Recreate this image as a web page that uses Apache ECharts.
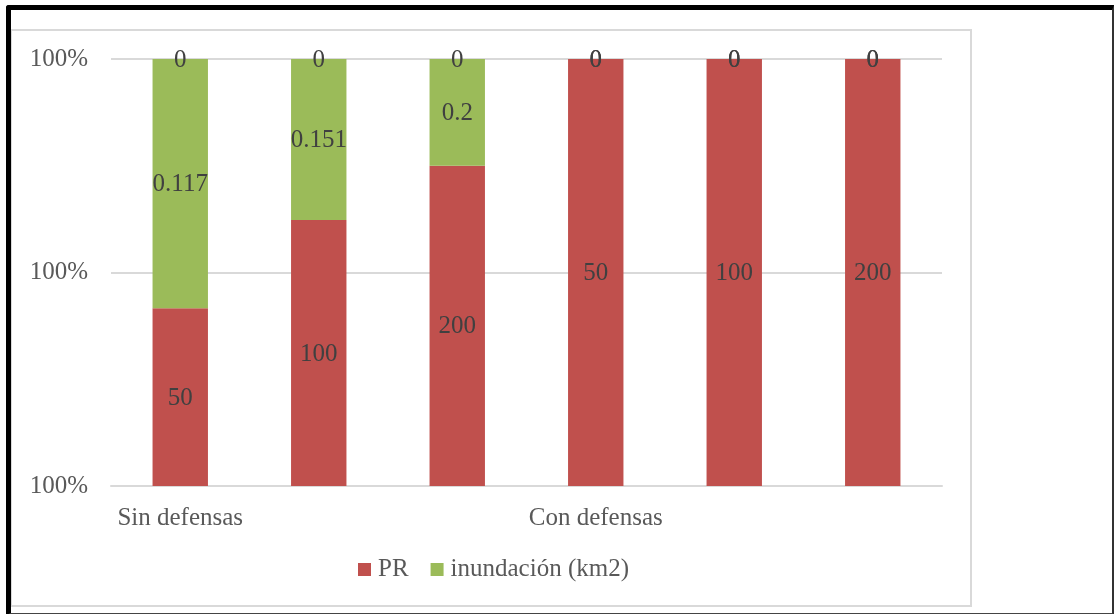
<!DOCTYPE html>
<html>
<head>
<meta charset="utf-8">
<script src="https://cdn.jsdelivr.net/npm/echarts@6/dist/echarts.min.js"></script>
<style>
  html, body { margin: 0; padding: 0; background: #fff; }
  #wrap { position: relative; width: 1114px; height: 614px; overflow: hidden; }
  #chart { position: absolute; left: 0; top: 0; width: 1114px; height: 614px; }
  .box { position: absolute; box-sizing: border-box; pointer-events: none; }
</style>
</head>
<body>
<div id="wrap">
  <div id="chart"></div>
  <!-- chart area border -->
  <div class="box" style="left:10px;top:29px;width:962px;height:578px;border:2px solid #D9D9D9;"></div>
  <!-- outer frame -->
  <div class="box" style="left:6px;top:5px;width:1108px;height:610px;border-top:5px solid #000;border-left:5px solid #000;border-right:2px solid #333;border-bottom:2px solid #444;border-top-left-radius:3px;"></div>
</div>
<script>
// Return periods (PR, years) and flooded area (km2) per scenario
const categories = ['Sin defensas', 'Sin defensas', 'Sin defensas', 'Con defensas', 'Con defensas', 'Con defensas'];
const prValues = [50, 100, 200, 50, 100, 200];
const floodValues = [0.117, 0.151, 0.2, 0, 0, 0];
const extraValues = [0, 0, 0, 0, 0, 0];
const yTicks = { min: 0.996, max: 1, interval: 0.002 };

// 100% stacked: each value as a share of its column total
const totals = categories.map((_, i) => prValues[i] + floodValues[i] + extraValues[i]);
const share = (arr) => arr.map((v, i) => ({ value: v / totals[i], raw: v }));

const labelStyle = {
  show: true,
  position: 'inside',
  fontFamily: 'Liberation Serif',
  fontSize: 25,
  color: '#404040',
  offset: [0, 1],
  formatter: (p) => String(p.data.raw)
};

const chart = echarts.init(document.getElementById('chart'), null, { renderer: 'canvas' });
chart.setOption({
  animation: false,
  textStyle: { fontFamily: 'Liberation Serif' },
  grid: { left: 111, right: 172, top: 59, bottom: 128, containLabel: false },
  legend: {
    data: ['PR', 'inundación (km2)'],
    left: 353,
    top: 552,
    icon: 'rect',
    itemWidth: 13,
    itemHeight: 13,
    itemGap: 22,
    textStyle: { fontFamily: 'Liberation Serif', fontSize: 25, color: '#595959', padding: [0, 0, 0, 2] }
  },
  xAxis: {
    type: 'category',
    data: categories,
    axisLine: { show: true, lineStyle: { color: '#D9D9D9', width: 2 } },
    axisTick: { show: false },
    axisLabel: {
      interval: 2,
      margin: 20,
      fontFamily: 'Liberation Serif',
      fontSize: 25,
      color: '#595959'
    }
  },
  yAxis: {
    type: 'value',
    min: yTicks.min,
    max: yTicks.max,
    interval: yTicks.interval,
    axisLine: { show: false },
    axisTick: { show: false },
    splitLine: { lineStyle: { color: '#D9D9D9', width: 2 } },
    axisLabel: {
      margin: 23,
      fontFamily: 'Liberation Serif',
      fontSize: 25,
      color: '#595959',
      padding: [2, 0, 0, 0],
      formatter: (v) => Math.round(v * 100) + '%'
    }
  },
  series: [
    {
      name: 'PR', type: 'bar', stack: 'total', barWidth: '40%',
      itemStyle: { color: '#C0504D' },
      label: labelStyle,
      data: share(prValues)
    },
    {
      name: 'inundación (km2)', type: 'bar', stack: 'total', barWidth: '40%',
      itemStyle: { color: '#9BBB59' },
      label: labelStyle,
      data: share(floodValues)
    },
    {
      name: 'otros', type: 'bar', stack: 'total', barWidth: '40%',
      itemStyle: { color: '#4F81BD' },
      label: labelStyle,
      data: share(extraValues)
    }
  ]
});
</script>
</body>
</html>
